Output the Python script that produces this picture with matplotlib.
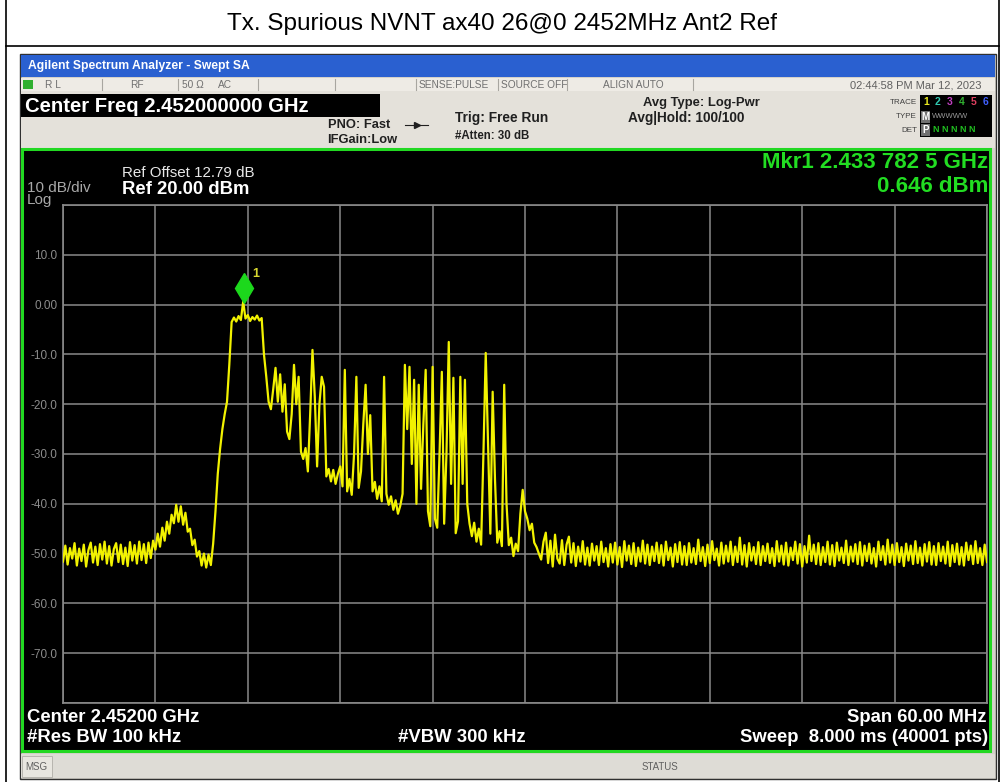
import numpy as np
import matplotlib
matplotlib.use("Agg")
import matplotlib.pyplot as plt
from matplotlib.patches import Rectangle
from matplotlib.lines import Line2D
from matplotlib.transforms import offset_copy

# sweep: 2422 .. 2482 MHz, trace levels in dBm (401 pts)
freq_start = 2422.0
freq_stop = 2482.0
trace_dbm = [
    -51.6, -48.4, -52.2, -48.9, -51.0, -47.9, -52.4, -49.0, -51.5, -48.2,
    -52.6, -49.3, -47.8, -51.8, -48.6, -52.3, -48.1, -51.2, -47.6, -52.0,
    -48.5, -52.4, -49.1, -47.9, -51.7, -48.2, -52.1, -48.8, -52.5, -47.7,
    -51.4, -48.3, -52.0, -47.6, -51.3, -48.1, -51.9, -47.8, -50.9, -47.4,
    -49.2, -46.0, -48.6, -44.8, -47.4, -43.6, -46.0, -42.2, -43.9, -40.2,
    -43.6, -40.5, -44.2, -41.8, -45.6, -45.0, -48.3, -47.2, -50.6, -49.5,
    -52.4, -50.0, -52.8, -50.2, -52.3, -48.0, -41.5, -34.0, -29.0, -25.0,
    -22.0, -19.5, -12.0, -3.5, -2.6, -3.4, -2.3, -3.1, 0.6, -2.8,
    -2.1, -3.3, -2.5, -3.0, -2.2, -3.2, -2.7, -10.0, -14.5, -19.5,
    -21.0, -17.0, -12.7, -19.5, -14.0, -21.5, -16.0, -25.5, -27.0, -22.0,
    -12.1, -20.0, -14.5, -29.5, -31.0, -28.8, -33.5, -22.0, -9.1, -18.5,
    -32.5, -20.0, -14.5, -16.5, -34.5, -33.0, -35.5, -33.2, -36.0, -34.0,
    -32.5, -36.5, -13.1, -37.5, -35.0, -38.2, -30.0, -14.5, -36.8, -33.5,
    -24.0, -16.1, -30.0, -22.2, -37.5, -35.6, -39.0, -36.5, -39.5, -14.5,
    -38.0, -40.2, -38.5, -41.2, -39.3, -42.0, -40.4, -38.0, -12.1, -25.0,
    -12.5, -32.0, -15.1, -40.0, -16.1, -37.0, -24.0, -13.1, -41.5, -44.5,
    -12.5, -43.0, -44.8, -30.0, -13.5, -44.0, -30.0, -7.5, -36.0, -14.7,
    -45.9, -43.5, -14.5, -36.0, -15.1, -40.0, -44.0, -46.5, -43.8, -47.6,
    -45.0, -48.2, -30.0, -9.7, -28.0, -46.0, -17.5, -35.0, -47.8, -45.5,
    -48.5, -16.1, -40.0, -48.3, -46.8, -50.5, -48.0, -49.5, -42.0, -37.2,
    -41.5, -43.0, -45.3, -44.0, -47.8, -48.7, -50.0, -51.2,
    -47.6, -45.8, -51.9, -47.4, -52.6, -46.2, -51.0, -52.0, -47.3, -52.3,
    -48.2, -46.6, -51.8, -47.9, -52.5, -48.6, -51.6, -47.5, -52.2, -48.8,
    -52.4, -48.0, -51.4, -48.5, -52.3, -47.6, -51.7, -48.9, -52.6, -48.1,
    -51.8, -47.8, -52.2, -48.7, -52.7, -47.5, -51.4, -48.4, -52.1, -47.9,
    -52.5, -48.8, -51.6, -47.4, -52.0, -48.2, -52.3, -48.6, -51.5, -47.8,
    -51.9, -48.3, -52.4, -47.6, -51.3, -48.8, -52.6, -48.1, -51.7, -47.7,
    -52.2, -48.5, -52.3, -47.9, -51.8, -48.9, -52.1, -47.2, -51.5, -48.7,
    -52.5, -48.2, -51.9, -47.5, -51.3, -49.0, -52.4, -47.8, -52.0, -48.4,
    -51.6, -47.6, -52.3, -48.6, -51.7, -46.8, -52.2, -48.3, -52.6, -47.9,
    -51.4, -48.7, -52.1, -47.7, -52.3, -48.5, -51.5, -48.0, -51.9, -48.9,
    -52.5, -47.5, -51.6, -48.4, -52.2, -47.8, -52.4, -48.8, -51.3, -47.6,
    -52.0, -48.1, -52.6, -48.5, -51.8, -46.4, -51.5, -48.2, -52.1, -47.9,
    -52.3, -48.7, -51.7, -47.6, -52.2, -48.3, -52.5, -47.8, -51.4, -48.8,
    -51.9, -47.4, -52.3, -48.6, -51.6, -48.1, -52.1, -47.7, -52.4, -48.4,
    -51.5, -48.0, -52.0, -48.9, -52.6, -47.6, -51.3, -48.5, -52.2, -47.2,
    -51.8, -48.2, -52.3, -47.9, -51.7, -48.7, -52.5, -48.0, -51.4, -48.4,
    -52.1, -47.5, -51.9, -48.8, -52.4, -48.1, -51.6, -47.7, -52.2, -48.5,
    -52.3, -47.9, -51.5, -48.6, -52.0, -47.6, -52.5, -48.3, -51.7, -48.0,
    -52.2, -48.7, -52.4, -47.8, -51.3, -48.4, -52.1, -47.5, -51.9, -48.9,
    -52.3, -48.2, -51.7,
]

ytick_vals = [20, 10, 0, -10, -20, -30, -40, -50, -60, -70, -80]
ytick_labels = ["", "10.0", "0.00", "-10.0", "-20.0", "-30.0", "-40.0",
                "-50.0", "-60.0", "-70.0", ""]
mkr_freq = 2433.7825
mkr_level = 0.646

W, H = 1004, 782
FONT = "Liberation Sans"

fig = plt.figure(figsize=(W / 100, H / 100), dpi=100)
fig.patch.set_facecolor("white")


def fx(x):
    return x / W


def fy(y):
    return 1 - y / H


def box(x0, y0, x1, y1, fc, ec="none", lw=0.0, z=1):
    fig.add_artist(Rectangle((fx(x0), fy(y1)), (x1 - x0) / W, (y1 - y0) / H,
                             transform=fig.transFigure, facecolor=fc,
                             edgecolor=ec, linewidth=lw, zorder=z))


def hline(x0, x1, y, color, lw=1.0, z=2):
    fig.add_artist(Line2D([fx(x0), fx(x1)], [fy(y), fy(y)], color=color,
                          lw=lw, transform=fig.transFigure, zorder=z))


def vline(x, y0, y1, color, lw=1.0, z=2):
    fig.add_artist(Line2D([fx(x), fx(x)], [fy(y0), fy(y1)], color=color,
                          lw=lw, transform=fig.transFigure, zorder=z))


def txt(x, y, s, size, color="black", ha="left", weight="normal", z=3):
    fig.text(fx(x), fy(y), s, fontsize=size, color=color, ha=ha, va="center",
             fontweight=weight, family=FONT, zorder=z)


# report table cell
vline(6, 0, 782, "black", 1.2)
vline(999, 0, 782, "black", 1.2)
hline(6, 999, 46, "black", 1.2)
txt(502, 24, "Tx. Spurious NVNT ax40 26@0 2452MHz Ant2 Ref", 17.5, ha="center")

# analyzer window frame
box(20, 54, 996, 779, "#d4d1ca", ec="#303030", lw=1.0)
box(21, 55, 995, 77, "#2a60d0")
txt(28, 66, "Agilent Spectrum Analyzer - Swept SA", 8.7, "white", weight="bold")

# status row
box(21, 78, 995, 91, "#eeebe5")
box(23, 80, 33, 89, "#30b030")
for sx in [102, 178, 258, 335, 416, 498, 567, 693]:
    vline(sx, 79, 90, "#a8a6a0", 0.8)
for sx, s in [(45, "R L"), (130, "RF"), (182, "50 \u03a9"), (218, "AC"),
              (419, "SENSE:PULSE"), (501, "SOURCE OFF"), (603, "ALIGN AUTO")]:
    txt(sx, 85, s, 7.3, "#707070")
txt(982, 85, "02:44:58 PM Mar 12, 2023", 8, "#606060", ha="right")

# settings area
box(21, 91, 995, 148, "#e4e1da")
box(21, 94, 380, 117, "black")
txt(25, 106, "Center Freq 2.452000000 GHz", 14.6, "white", weight="bold")
txt(328, 125, "PNO: Fast", 9.3, "#202020", weight="bold")
txt(327, 140, "IFGain:Low", 9.3, "#202020", weight="bold")
fig.add_artist(Line2D([fx(405), fx(428)], [fy(125), fy(125)], color="#202020",
                      lw=0.8, transform=fig.transFigure, zorder=3))
fig.add_artist(Line2D([fx(417)], [fy(125)], color="#202020", marker=">",
                      ms=4, transform=fig.transFigure, zorder=3))
txt(455, 118, "Trig: Free Run", 9.9, "#202020", weight="bold")
txt(455, 136, "#Atten: 30 dB", 8.3, "#202020", weight="bold")
txt(643, 103, "Avg Type: Log-Pwr", 9.4, "#202020", weight="bold")
txt(628, 118, "Avg|Hold: 100/100", 9.8, "#202020", weight="bold")

# trace / type / det box
txt(917, 102, "TRACE", 5.8, "#404040", ha="right")
txt(917, 117, "TYPE", 5.8, "#404040", ha="right")
txt(917, 130, "DET", 5.8, "#404040", ha="right")
box(920, 95, 992, 137, "black")
trace_cols = ["#e8e820", "#30c8b0", "#c040c0", "#30b030", "#e04060", "#4060ff"]
for k, c in enumerate(trace_cols):
    txt(926 + k * 12, 102, str(k + 1), 7.5, c, ha="center", weight="bold")
box(921, 111, 930, 123, "#707070")
box(921, 124, 930, 136, "#707070")
txt(925.5, 117, "M", 7, "white", ha="center", weight="bold")
txt(925.5, 130, "P", 7, "white", ha="center", weight="bold")
txt(932, 117, "WWWWW", 5.5, "#9a9a9a")
txt(933, 130, "N N N N N", 6.5, "#20c020", weight="bold")

# display area
box(22, 149, 990, 751, "black", ec="#22d822", lw=2.2)
txt(122, 173, "Ref Offset 12.79 dB", 10.9, "#e8e8e8")
txt(122, 190, "Ref 20.00 dBm", 13.3, "white", weight="bold")
txt(27, 188, "10 dB/div", 11, "#a8a8a8")
txt(27, 200, "Log", 11, "#a8a8a8")
txt(988, 163, "Mkr1 2.433 782 5 GHz", 16, "#22dd22", ha="right", weight="bold")
txt(988, 186, "0.646 dBm", 16, "#22dd22", ha="right", weight="bold")
txt(27, 717, "Center 2.45200 GHz", 13.3, "white", weight="bold")
txt(27, 738, "#Res BW 100 kHz", 13.3, "white", weight="bold")
txt(398, 738, "#VBW 300 kHz", 13.3, "white", weight="bold")
txt(987, 717, "Span 60.00 MHz", 13.3, "white", ha="right", weight="bold")
txt(988, 738, "Sweep  8.000 ms (40001 pts)", 13.3, "white", ha="right",
    weight="bold")

# bottom status bar
box(21, 754, 995, 778, "#dedcd6")
box(22, 756, 52, 777, "#e8e6e0", ec="#b0aea8", lw=0.6)
txt(25, 767, "MSG", 7, "#606060")
txt(642, 767, "STATUS", 7, "#606060")

# spectrum graticule
ax = fig.add_axes([fx(63), fy(703), (987 - 63) / W, (703 - 205) / H])
ax.set_zorder(5)
ax.set_facecolor("black")
freq = np.linspace(freq_start, freq_stop, len(trace_dbm))
ax.plot(freq, trace_dbm, color="#f2f200", lw=1.6, zorder=3)
ax.set_xlim(freq_start, freq_stop)
ax.set_ylim(ytick_vals[-1], ytick_vals[0])
ax.set_xticks(np.linspace(freq_start, freq_stop, 11))
ax.set_xticklabels([])
ax.set_yticks(ytick_vals)
ax.set_yticklabels(ytick_labels, family=FONT)
ax.tick_params(length=0, pad=4, labelsize=8.5, labelcolor="#8c8c8c")
ax.grid(True, color="#8a8a8a", lw=1.1, zorder=1)
ax.set_axisbelow(True)
for sp in ax.spines.values():
    sp.set_color("#8a8a8a")
    sp.set_linewidth(1.2)

# marker 1
mk_tr = offset_copy(ax.transData, fig=fig, x=0, y=13, units="dots")
ax.plot([mkr_freq], [mkr_level], marker="d", ms=15, color="#1cd81c",
        transform=mk_tr, zorder=4, clip_on=False)
lbl_tr = offset_copy(ax.transData, fig=fig, x=8, y=27, units="dots")
ax.text(mkr_freq, mkr_level, "1", transform=lbl_tr, color="#d8d830",
        fontsize=9, fontweight="bold", family=FONT, va="center", zorder=4)

fig.savefig("out.png", dpi=100)
